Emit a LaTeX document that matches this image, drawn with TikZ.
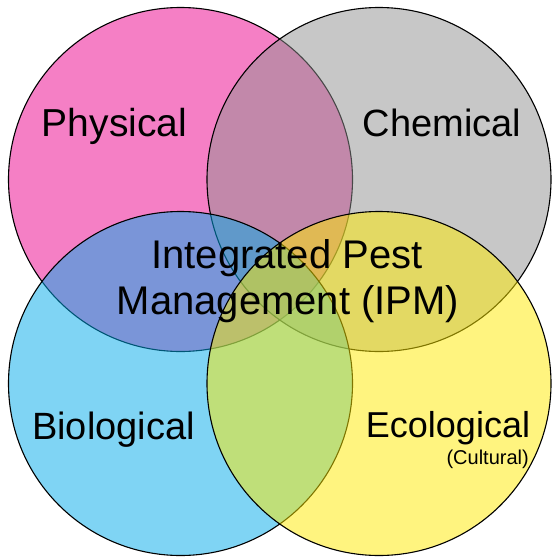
\documentclass[tikz,border=0pt]{standalone}
\usepackage{fontspec}
\setmainfont{Liberation Sans}
\definecolor{cpink}{RGB}{236,0,140}
\definecolor{cgray}{RGB}{145,145,145}
\definecolor{cblue}{RGB}{0,171,235}
\definecolor{cyell}{RGB}{255,235,0}
\begin{document}
\begin{tikzpicture}[x=1pt,y=-1pt,
  venn/.style={draw=black,line width=1.1pt,fill opacity=0.5},
  big/.style={inner sep=0pt,anchor=base,font=\fontsize{39}{46}\selectfont},
  small/.style={inner sep=0pt,anchor=base east,font=\fontsize{20}{22}\selectfont}]
\useasboundingbox (0,0) rectangle (552,557);
\fill[white] (0,0) rectangle (552,557);
\draw[venn,fill=cpink] (180.5,179.5) circle[radius=172];
\draw[venn,fill=cgray] (379,179.5) circle[radius=172];
\draw[venn,fill=cblue] (180.5,383.5) circle[radius=172];
\draw[venn,fill=cyell] (379,383.5) circle[radius=172];
\node[big] (phys) at (114.5,136) {Physical};
\node[big,font=\fontsize{38}{44}\selectfont] (chem) at (442,136) {Chemical};
\node[big,font=\fontsize{40}{46}\selectfont] (ipm1) at (287,268) {Integrated Pest};
\node[big,font=\fontsize{40}{46}\selectfont] (ipm2) at (288,314) {Management (IPM)};
\node[big,font=\fontsize{38}{44}\selectfont] (bio) at (113.5,439) {Biological};
\node[big,font=\fontsize{36}{42}\selectfont] (eco) at (448,437) {Ecological};
\node[small] (cult) at (529,464) {(Cultural)};
\end{tikzpicture}
\end{document}
